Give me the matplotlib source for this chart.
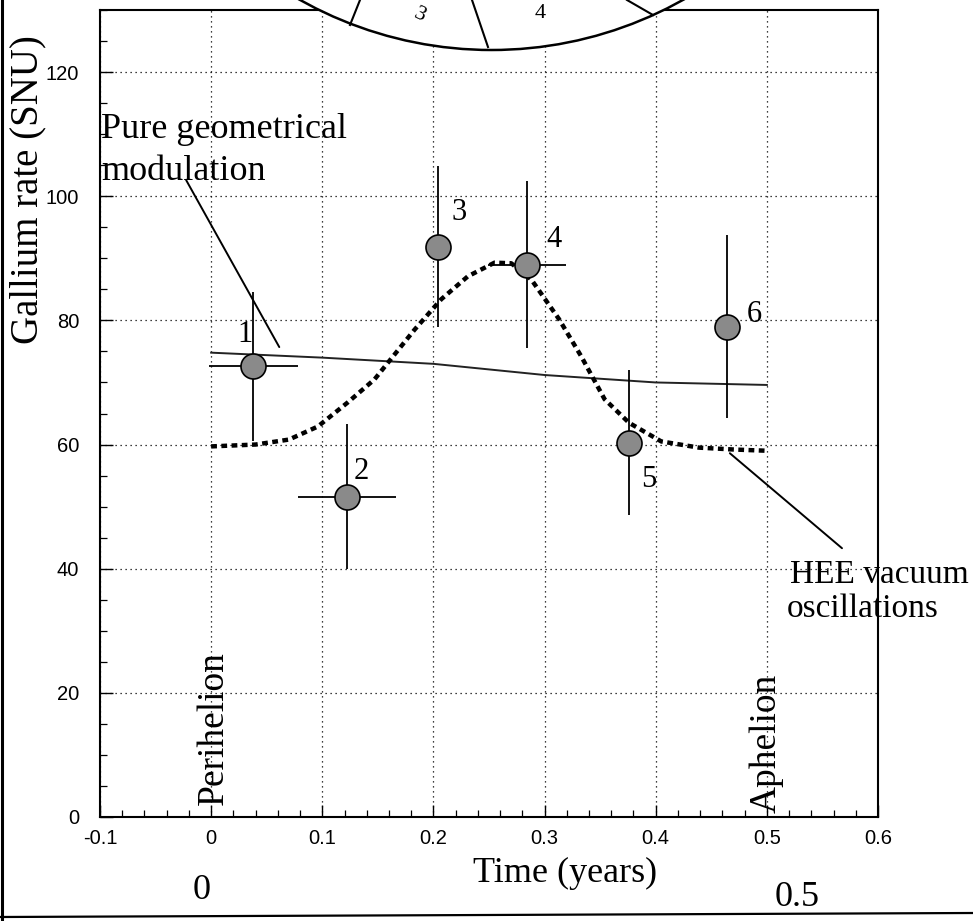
import matplotlib
matplotlib.use("Agg")
import matplotlib.pyplot as plt
from matplotlib.patches import Circle
from matplotlib.ticker import MultipleLocator, FixedLocator, FixedFormatter

plt.rcParams['font.family'] = ['Liberation Serif', 'DejaVu Serif']
plt.rcParams['axes.unicode_minus'] = False

# ---------------- data ----------------
obs_time = [0.038, 0.122, 0.204, 0.284, 0.376, 0.464]
obs_rate = [72.6, 51.6, 91.9, 89.0, 60.3, 79.0]
obs_err = [12.0, 11.7, 13.0, 13.5, 11.7, 14.7]
obs_terr = [0.04, 0.044, 0.0, 0.035, 0.0, 0.0]
obs_labels = ['1', '2', '3', '4', '5', '6']

geo_time = [0.0, 0.1, 0.2, 0.3, 0.4, 0.5]
geo_rate = [74.8, 74.0, 73.0, 71.2, 70.0, 69.6]

hee_time = [0.0, 0.04, 0.07, 0.096, 0.123, 0.147, 0.165, 0.183, 0.207, 0.231,
            0.255, 0.27, 0.288, 0.313, 0.333, 0.354, 0.376, 0.405, 0.439, 0.47, 0.5]
hee_rate = [59.7, 60.0, 60.8, 62.9, 66.8, 70.5, 74.5, 78.5, 83.4, 87.1,
            89.3, 89.2, 86.6, 80.2, 74.2, 67.3, 63.5, 60.5, 59.5, 59.2, 59.0]

x_ticks = [-0.1, 0.0, 0.1, 0.2, 0.3, 0.4, 0.5, 0.6]
x_tick_labels = ['-0.1', '0', '0.1', '0.2', '0.3', '0.4', '0.5', '0.6']
y_ticks = [0, 20, 40, 60, 80, 100, 120]
y_tick_labels = ['0', '20', '40', '60', '80', '100', '120']

# label offsets (pixels) for the point numbers
label_offsets = [(-8, 32), (15, 25), (21, 34), (27, 25), (20, -37), (27, 12)]

W, H = 973, 921
fig = plt.figure(figsize=(W / 100, H / 100), dpi=100)
fig.patch.set_facecolor('white')

ax_left, ax_right, ax_top, ax_bottom = 100, 878, 10, 817
ax = fig.add_axes([ax_left / W, 1 - ax_bottom / H,
                   (ax_right - ax_left) / W, (ax_bottom - ax_top) / H])
ax.set_xlim(-0.1, 0.6)
ax.set_ylim(0, 130)

ax.xaxis.set_major_locator(FixedLocator(x_ticks))
ax.xaxis.set_major_formatter(FixedFormatter(x_tick_labels))
ax.yaxis.set_major_locator(FixedLocator(y_ticks))
ax.yaxis.set_major_formatter(FixedFormatter(y_tick_labels))
ax.xaxis.set_minor_locator(MultipleLocator(0.02))
ax.yaxis.set_minor_locator(MultipleLocator(5))
ax.tick_params(which='major', direction='in', length=9, width=1.0, colors='black')
ax.tick_params(which='minor', direction='in', length=5, width=0.9)
ax.tick_params(axis='x', pad=9)
ax.tick_params(axis='y', pad=15)
for lab in ax.get_xticklabels() + ax.get_yticklabels():
    lab.set_fontfamily('Liberation Sans')
    lab.set_fontsize(14.5)
for sp in ax.spines.values():
    sp.set_linewidth(1.5)
    sp.set_color('black')

ax.grid(True, which='major', color='black', linewidth=0.9, linestyle=(0, (1, 3)))
ax.set_axisbelow(True)

# curves
ax.plot(geo_time, geo_rate, color='#222222', lw=1.4, zorder=3)
ax.plot(hee_time, hee_rate, color='black', lw=3.2, linestyle=(0, (1.3, 1.0)),
        zorder=3)

# data points
ax.errorbar(obs_time, obs_rate, yerr=obs_err, xerr=obs_terr, fmt='o', ms=18,
            mfc='#8a8a8a', mec='black', mew=1.2, ecolor='black',
            elinewidth=1.3, capsize=0, zorder=5)
for t, r, lbl, off in zip(obs_time, obs_rate, obs_labels, label_offsets):
    ax.annotate(lbl, (t, r), xytext=off, textcoords='offset pixels',
                ha='center', va='center', fontsize=22, zorder=6)

# annotations
ax.annotate('', xy=(0.0613, 75.7), xytext=(-0.0225, 102.6),
            arrowprops=dict(arrowstyle='-', lw=1.4, color='black',
                            shrinkA=0, shrinkB=0))
ax.text(-0.099, 109.4, 'Pure geometrical', ha='left', va='baseline', fontsize=26)
ax.text(-0.099, 102.6, 'modulation', ha='left', va='baseline', fontsize=26)

ax.annotate('', xy=(0.4667, 58.6), xytext=(0.5676, 43.3),
            arrowprops=dict(arrowstyle='-', lw=1.4, color='black',
                            shrinkA=0, shrinkB=0))
ax.text(0.5207, 37.7, 'HEE vacuum', ha='left', va='baseline', fontsize=24,
        clip_on=False)
ax.text(0.518, 32.2, 'oscillations', ha='left', va='baseline', fontsize=24,
        clip_on=False)

ax.text(0.002, 1.9, 'Perihelion', rotation=90, ha='center', va='bottom', fontsize=27)
ax.text(0.5, 0.6, 'Aphelion', rotation=90, ha='center', va='bottom', fontsize=27)

# figure-level labels
fig.text(28 / W, 1 - 190 / H, 'Gallium rate (SNU)', rotation=90,
         ha='center', va='center', fontsize=28)
fig.text(565 / W, 1 - 882 / H, 'Time (years)', ha='center', va='baseline',
         fontsize=26)
fig.text(202 / W, 1 - 890 / H, '0', ha='center', va='center', fontsize=26)
fig.text(797 / W, 1 - 897 / H, '0.5', ha='center', va='center', fontsize=26)

# overlay: orbit sector diagram at the top and page edges
ov = fig.add_axes([0, 0, 1, 1], zorder=10)
ov.set_xlim(0, W)
ov.set_ylim(H, 0)
ov.axis('off')
ov.add_patch(Circle((491.5, -341), 391, facecolor='white', edgecolor='black',
                    lw=1.8))
for (x0, y0), (x1, y1) in [((350, 25), (360, 0)), ((488, 47), (472, 0)),
                           ((653, 15), (627, 0))]:
    ov.plot([x0, x1], [y0, y1], color='black', lw=1.5)
ov.text(420, 15, '3', fontsize=16, ha='center', va='center', rotation=-25)
ov.text(540, 14, '4', fontsize=16, ha='center', va='center')
ov.plot([1.5, 1.5], [0, H], color='black', lw=2.2)
ov.plot([0, W], [917, 913], color='black', lw=1.6)

fig.savefig('out.png', dpi=100)
